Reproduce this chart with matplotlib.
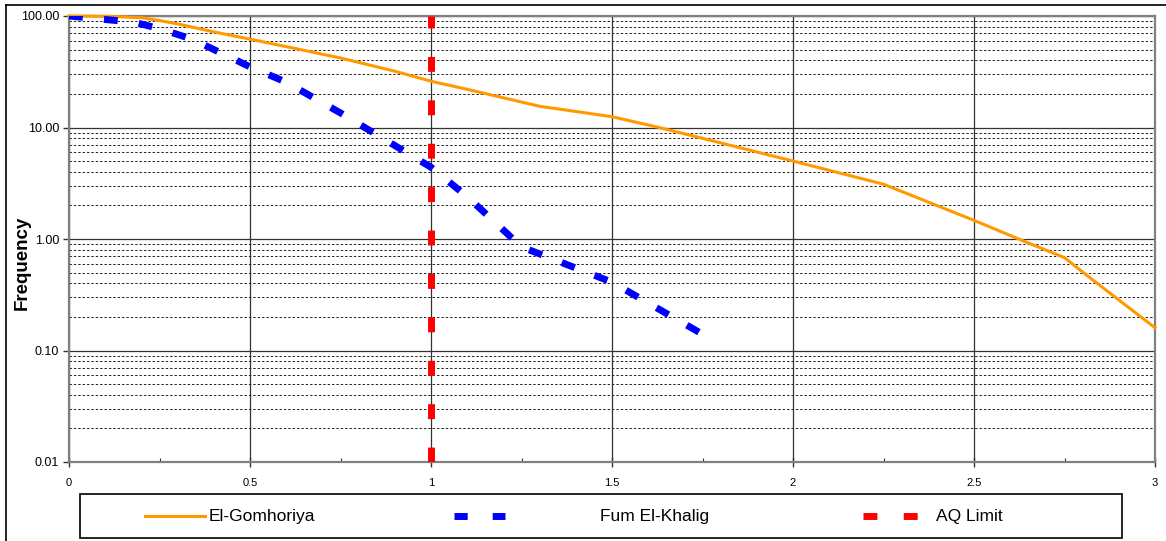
import matplotlib
matplotlib.use("Agg")
import matplotlib.pyplot as plt
from matplotlib.lines import Line2D
from matplotlib.patches import Rectangle
from matplotlib.ticker import FixedLocator, NullFormatter, LogLocator

plt.rcParams['font.family'] = ['Liberation Sans', 'DejaVu Sans']

# ---- data ----
gom_x = [0, 0.1, 0.2, 0.25, 0.3, 0.4, 0.5, 0.62, 0.75, 0.9, 1.0, 1.1, 1.3, 1.5,
         1.63, 1.75, 2.0, 2.25, 2.5, 2.63, 2.75, 2.82, 3.0]
gom_y = [100, 99.5, 96.5, 91, 85, 72, 62, 51.5, 42, 32, 26, 22, 15.5, 12.5,
         10.0, 8.0, 5.0, 3.1, 1.47, 0.98, 0.68, 0.45, 0.16]

fum_x = [0, 0.1, 0.18, 0.25, 0.34, 0.5, 0.6, 0.75, 1.0, 1.1, 1.25, 1.5, 1.75]
fum_y = [100, 93, 88, 77, 62, 35, 25.5, 13.5, 4.4, 2.4, 0.85, 0.41, 0.14]

aq_x = [1, 1]
aq_y = [0.01, 100]

series_names = ["El-Gomhoriya", "Fum El-Khalig", "AQ Limit"]
x_ticks = [0, 0.5, 1, 1.5, 2, 2.5, 3]
x_tick_labels = ["0", "0.5", "1", "1.5", "2", "2.5", "3"]
y_ticks = [0.01, 0.1, 1, 10, 100]
y_tick_labels = ["0.01", "0.10", "1.00", "10.00", "100.00"]
y_title = "Frequency"

W, H = 1166, 541
fig = plt.figure(figsize=(W / 100, H / 100), dpi=100)
fig.patch.set_facecolor("white")

ax = fig.add_axes([69 / W, 1 - 462 / H, (1155 - 69) / W, (462 - 16) / H])
ax.set_yscale("log")
ax.set_xlim(0, 3)
ax.set_ylim(0.01, 100)

ax.yaxis.set_major_locator(FixedLocator(y_ticks))
ax.yaxis.set_minor_locator(LogLocator(base=10, subs=range(2, 10)))
ax.yaxis.set_minor_formatter(NullFormatter())
ax.set_yticklabels(y_tick_labels)
ax.set_xticks(x_ticks)
ax.set_xticklabels(x_tick_labels)
ax.xaxis.set_minor_locator(FixedLocator([0.25, 0.75, 1.25, 1.75, 2.25, 2.75]))

ax.grid(True, which="major", axis="y", color="#333333", lw=0.9, ls="-")
ax.grid(True, which="minor", axis="y", color="#222222", lw=0.7, ls=(0, (2.5, 2)))
ax.grid(True, which="major", axis="x", color="#333333", lw=0.9, ls="-")
ax.set_axisbelow(True)

for s in ax.spines.values():
    s.set_color("#808080")
    s.set_linewidth(1.6)

ax.tick_params(axis="y", which="major", labelsize=9, colors="#333333",
               labelcolor="black", length=4, width=1, pad=3)
ax.tick_params(axis="x", which="major", labelsize=8, colors="#333333",
               labelcolor="black", direction="inout", length=7, width=1, pad=8)
ax.tick_params(axis="x", which="minor", direction="in", length=3, width=0.8, colors="#333333")
ax.tick_params(axis="y", which="minor", length=0)

def fx(px):
    return px / W

def fy(py):
    return 1 - py / H

fig.text(fx(22), fy(263), y_title, fontsize=13.5, fontweight="bold",
         rotation=90, ha="center", va="center")

# series
orange = "#FF9900"
blue = "#0000FF"
red = "#FF0000"
ax.plot(gom_x, gom_y, color=orange, lw=2.2, zorder=3, clip_on=False,
        solid_joinstyle="round")
ax.plot(fum_x, fum_y, color=blue, lw=5, dashes=(2, 3.05), dash_capstyle="butt", zorder=4)
ax.plot(aq_x, aq_y, color=red, lw=5, dashes=(2.15, 4.1), dash_capstyle="butt", zorder=5)

# legend box (Excel-style, below the plot)
fig.patches.append(Rectangle((fx(80), fy(538)), fx(1122) - fx(80), fy(494) - fy(538),
                             transform=fig.transFigure, fill=False, edgecolor="black", lw=1.2))
ly = fy(516)
fig.lines.append(Line2D([fx(145), fx(205)], [ly, ly], transform=fig.transFigure,
                        color=orange, lw=2.2))
fig.text(fx(209), ly, series_names[0], fontsize=12.5, va="center", ha="left")
fig.lines.append(Line2D([fx(454), fx(505)], [ly, ly], transform=fig.transFigure,
                        color=blue, lw=5, dashes=(1.9, 3.6), dash_capstyle="butt"))
fig.text(fx(600), ly, series_names[1], fontsize=12.5, va="center", ha="left")
fig.lines.append(Line2D([fx(863), fx(918)], [ly, ly], transform=fig.transFigure,
                        color=red, lw=5, dashes=(2.0, 3.8), dash_capstyle="butt"))
fig.text(fx(936), ly, series_names[2], fontsize=12.5, va="center", ha="left")

# outer chart border (top and left visible)
fig.lines.append(Line2D([fx(6), fx(1166)], [fy(5), fy(5)], transform=fig.transFigure,
                        color="black", lw=1.2))
fig.lines.append(Line2D([fx(6), fx(6)], [fy(5), fy(541)], transform=fig.transFigure,
                        color="black", lw=1.2))

fig.savefig("out.png", dpi=100)
